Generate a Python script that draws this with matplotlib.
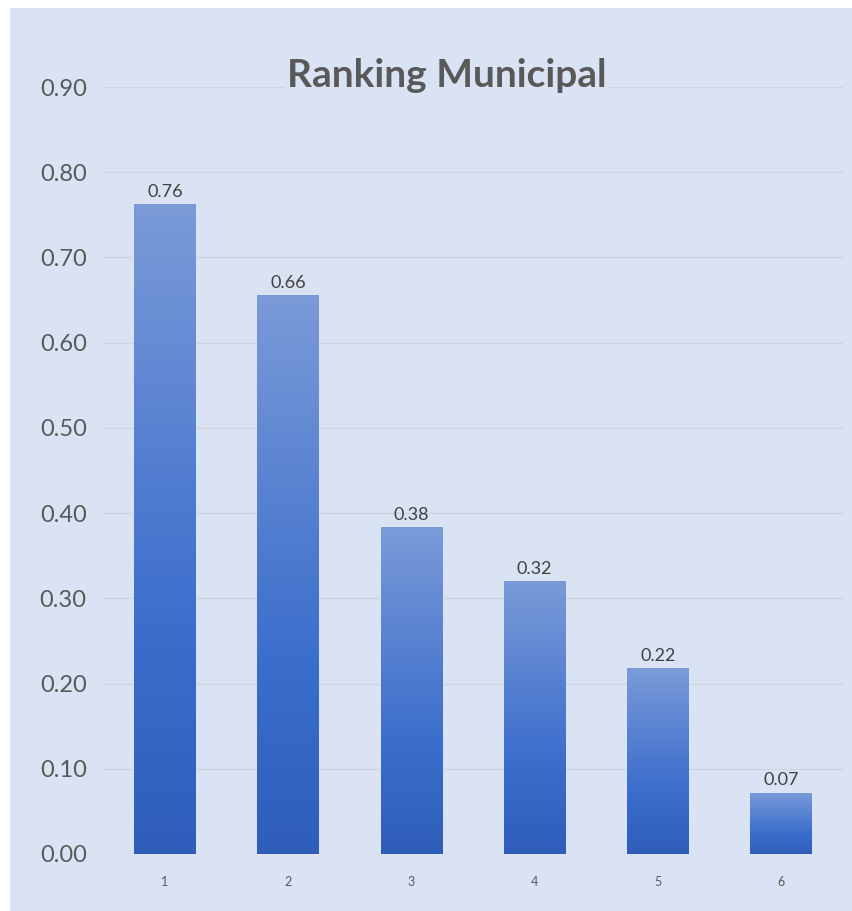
import matplotlib
matplotlib.use("Agg")
import matplotlib.pyplot as plt
import numpy as np
from matplotlib.colors import LinearSegmentedColormap
from matplotlib.patches import Rectangle

categories = ["1", "2", "3", "4", "5", "6"]
values = [0.763, 0.656, 0.384, 0.320, 0.218, 0.072]
yticks = [0.0, 0.1, 0.2, 0.3, 0.4, 0.5, 0.6, 0.7, 0.8, 0.9]
title = "Ranking Municipal"

bg = "#dae3f3"
fig = plt.figure(figsize=(8.53, 9.11), dpi=100, facecolor="white")
fig.patches.append(Rectangle((10/853, 0), 1 - 10/853, 1 - 8/911,
                             transform=fig.transFigure, facecolor=bg,
                             edgecolor="none", zorder=-10))
ax = fig.add_axes([0.1212, 0.0626, 0.8666, 0.8419])
ax.set_facecolor(bg)
ax.patch.set_alpha(0)

x = np.arange(len(categories))
bars = ax.bar(x, values, width=0.5, facecolor="none", edgecolor="none", zorder=3)

cmap = LinearSegmentedColormap.from_list(
    "g", ["#2f5eba", "#3a6dcc", "#5a83d2", "#7b9bd8"])
grad = np.linspace(0, 1, 256).reshape(-1, 1)
for b, v in zip(bars, values):
    x0 = b.get_x(); w = b.get_width()
    im = ax.imshow(grad, cmap=cmap, aspect="auto", origin="lower",
                   extent=(x0, x0 + w, 0, v), zorder=3)
    im.set_clip_path(b)
    ax.annotate(f"{v:.2f}", (x0 + w / 2, v), xytext=(0, 3),
                textcoords="offset points", ha="center", va="bottom",
                fontsize=13, color="#404040", family="Lato")

ax.set_xlim(-0.5, len(categories) - 0.5)
ax.set_ylim(0, 0.9)
ax.set_yticks(yticks)
ax.set_yticklabels([f"{t:.2f}" for t in yticks], fontsize=17,
                   color="#595959", family="Lato")
ax.set_xticks(x)
ax.set_xticklabels(categories, fontsize=9, color="#595959", family="Lato")
ax.tick_params(axis="both", length=0)
ax.tick_params(axis="y", pad=12)
ax.tick_params(axis="x", pad=16)
ax.grid(axis="y", color="#cfd5df", linewidth=1, zorder=0)
for s in ax.spines.values():
    s.set_visible(False)

fig.text(0.5235, 0.9045, title, ha="center", va="baseline", fontsize=28,
         fontweight="bold", color="#595959", family="Lato",
         bbox=dict(facecolor=bg, edgecolor="none", pad=1), zorder=5)

fig.savefig("out.png", dpi=100, facecolor=fig.get_facecolor())
